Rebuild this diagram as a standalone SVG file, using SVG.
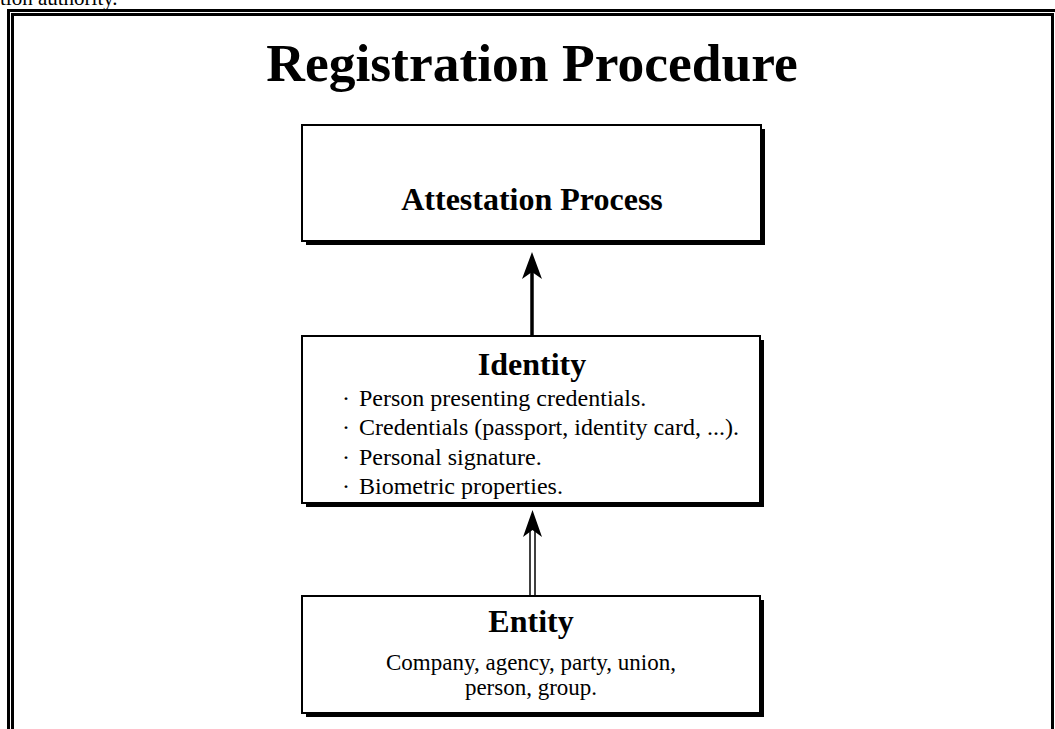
<svg xmlns="http://www.w3.org/2000/svg" width="1055" height="729" viewBox="0 0 1055 729">
  <style>
    .serif { font-family: "Liberation Serif", "Times New Roman", serif; fill: #000; }
    .bold { font-weight: bold; }
    .box { fill: #fff; stroke: #000; stroke-width: 2; }
    .shadow { fill: #000; stroke: none; }
    .frame { fill: none; stroke: #000; stroke-width: 3; }
    .shaft { stroke: #000; fill: none; }
    .head { fill: #000; stroke: none; }
  </style>

  <rect x="0" y="0" width="1055" height="729" fill="#fff"/>

  <!-- fragment of the running text above the figure -->
  <text class="serif" x="0" y="4.5" font-size="21">tion authority.</text>

  <!-- double frame around the figure -->
  <g id="frame">
    <path class="frame" d="M8.5,740 V10.5 H1060"/>
    <path class="frame" d="M12.5,740 V14.5 H1052.5 V740"/>
  </g>

  <text id="title" class="serif bold" x="532" y="81" font-size="53.5" text-anchor="middle">Registration Procedure</text>

  <g id="connectors">
    <!-- Identity -> Attestation Process: solid shaft -->
    <line class="shaft" x1="532" y1="336" x2="532" y2="272" stroke-width="3.5"/>
    <path class="head" d="M532,252 L542,279 L532,272 L522,279 Z"/>
    <!-- Entity -> Identity: double shaft -->
    <line class="shaft" x1="530" y1="596" x2="530" y2="530" stroke-width="1.5"/>
    <line class="shaft" x1="535" y1="596" x2="535" y2="530" stroke-width="1.5"/>
    <path class="head" d="M532.5,510 L542,537 L532.5,530 L523,537 Z"/>
  </g>

  <g id="attestation">
    <rect class="shadow" x="306" y="129" width="459" height="116"/>
    <rect class="box" x="302" y="125" width="459" height="116"/>
    <text class="serif bold" x="532" y="210" font-size="32" text-anchor="middle">Attestation Process</text>
  </g>

  <g id="identity">
    <rect class="shadow" x="306" y="340" width="458" height="167"/>
    <rect class="box" x="302" y="336" width="458" height="167"/>
    <text class="serif bold" x="532" y="375" font-size="32" text-anchor="middle">Identity</text>
    <g class="serif" font-size="24">
      <text x="342" y="405.5">·</text><text x="359" y="405.5">Person presenting credentials.</text>
      <text x="342" y="435">·</text><text x="359" y="435">Credentials (passport, identity card, ...).</text>
      <text x="342" y="464.5">·</text><text x="359" y="464.5">Personal signature.</text>
      <text x="342" y="494">·</text><text x="359" y="494">Biometric properties.</text>
    </g>
  </g>

  <g id="entity">
    <rect class="shadow" x="306" y="600" width="458" height="117"/>
    <rect class="box" x="302" y="596" width="458" height="117"/>
    <text class="serif bold" x="531" y="632" font-size="32" text-anchor="middle">Entity</text>
    <text class="serif" x="531" y="670" font-size="23" text-anchor="middle">Company, agency, party, union,</text>
    <text class="serif" x="531" y="695" font-size="23" text-anchor="middle">person, group.</text>
  </g>
</svg>
